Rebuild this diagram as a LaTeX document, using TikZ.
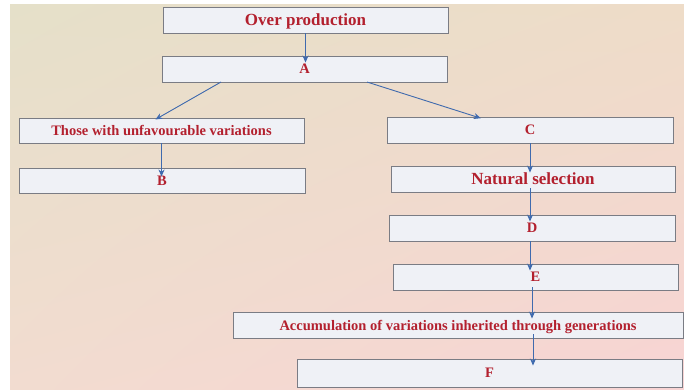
\documentclass[tikz,border=0pt]{standalone}
\usepackage{fontspec}
\setmainfont{Liberation Serif}
\usetikzlibrary{arrows.meta,shadings}
\definecolor{bgUL}{HTML}{E5E0C9}
\definecolor{bgUR}{HTML}{EEDCC8}
\definecolor{bgLL}{HTML}{F2DCD0}
\definecolor{bgLR}{HTML}{F8D4D4}
\definecolor{boxfill}{HTML}{EFF1F6}
\definecolor{boxline}{HTML}{7A7C84}
\definecolor{txtred}{HTML}{B3202E}
\definecolor{arrblue}{HTML}{3F6AAE}
\tikzset{
  flowbox/.style={draw=boxline, line width=0.9pt, fill=boxfill, rectangle,
    inner sep=0pt, minimum height=26pt, text=txtred, text depth=0pt, font=\bfseries\fontsize{14.5}{16}\selectfont},
  bigtext/.style={font=\bfseries\fontsize{17}{19}\selectfont},
  arr/.style={draw=arrblue, line width=0.9pt, -{Stealth[length=7pt,width=6pt]}},
  deep/.style={shorten >=-7pt}
}
\begin{document}
\begin{tikzpicture}[x=1pt,y=-1pt]
\useasboundingbox (0,0) rectangle (684,390);
\fill[white] (0,0) rectangle (684,390);
\shade[upper left=bgUL, upper right=bgUR, lower left=bgLL, lower right=bgLR] (10,5) rectangle (684,390);

\node[flowbox, bigtext, minimum width=285pt] (over) at (305.5,20) {Over production};
\node[flowbox, minimum width=285pt] (A) at (304.5,69) {A};
\node[flowbox, minimum width=285pt, minimum height=25pt] (those) at (161.5,130.5) {Those with unfavourable variations};
\node[flowbox, minimum width=286pt, minimum height=25pt] (B) at (162,180.5) {B};
\node[flowbox, minimum width=286pt] (C) at (530,130) {C};
\node[flowbox, bigtext, minimum width=284pt] (NS) at (533,179) {Natural selection};
\node[flowbox, minimum width=286pt] (D) at (532,228) {D};
\node[flowbox, minimum width=285pt] (E) at (535.5,277) {E};
\node[flowbox, minimum width=450pt] (acc) at (458,325) {Accumulation of variations inherited through generations};
\node[flowbox, minimum width=385pt, minimum height=28pt] (F) at (489.5,373) {F};

\coordinate (aL) at (221,82);
\coordinate (aR) at (367,82);
\coordinate (tL) at (158,118);
\coordinate (tR) at (477,117);
\coordinate (e1) at (532,290);
\coordinate (f1) at (533,338);

\draw[arr, deep] (over.south) -- (over.south |- A.north);
\draw[arr, shorten >=-3pt] (aL) -- (tL);
\draw[arr, shorten >=-4pt] (aR) -- (tR);
\draw[arr, shorten >=-9pt] (those.south) -- (those.south |- B.north);
\draw[arr, deep] (C.south) -- (C.south |- NS.north);
\draw[arr, deep, shorten <=-4pt] (NS.south -| C.south) -- (D.north -| C.south);
\draw[arr, deep] (D.south -| C.south) -- (E.north -| C.south);
\draw[arr, deep, shorten <=-3pt] (e1) -- (e1 |- acc.north);
\draw[arr, deep, shorten <=-4pt] (f1) -- (f1 |- F.north);
\end{tikzpicture}
\end{document}
